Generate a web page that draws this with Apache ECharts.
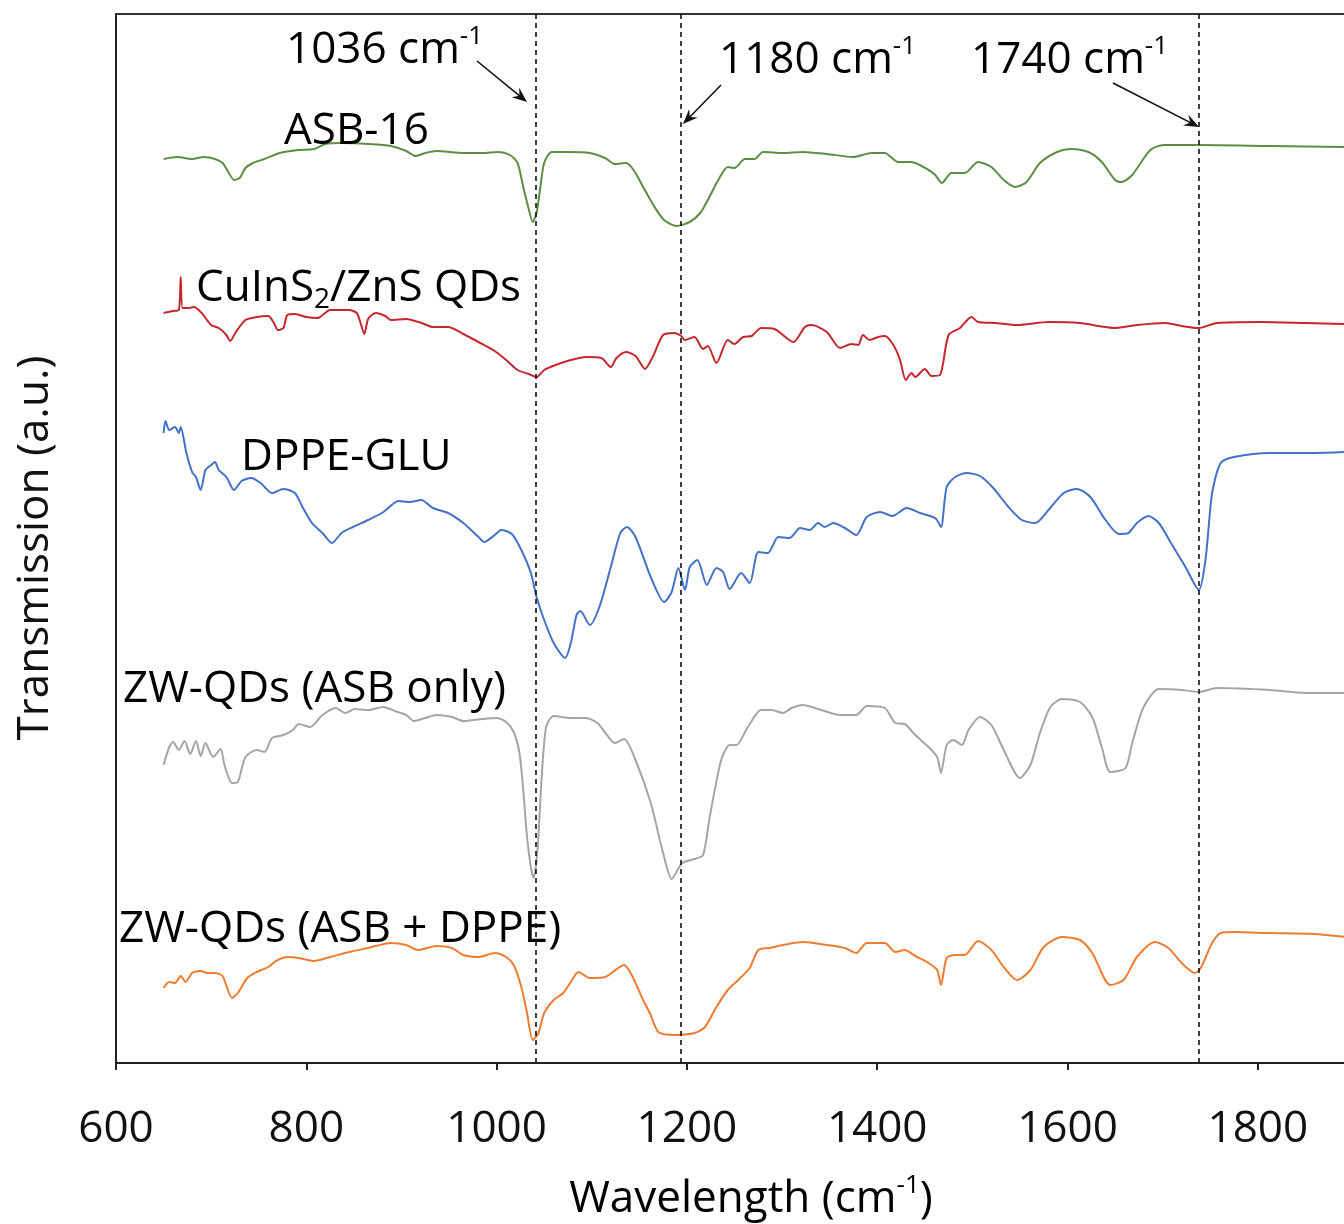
<!DOCTYPE html>
<html><head><meta charset="utf-8">
<script src="https://cdn.jsdelivr.net/npm/echarts@6/dist/echarts.min.js"></script>
<style>html,body{margin:0;padding:0;background:#fff}#c{width:1344px;height:1224px}</style>
</head><body><div id="c"></div>
<script>
// ---- data (wavenumber in cm-1, transmission in arbitrary offset units) ----
const asbX=[650,664,680,692,704,712,718,724,730,736,744,756,772,792,808,820,837,865,889,905,915,925,937,965,985,1002,1014,1022,1028,1034,1038,1042,1046,1050,1058,1074,1098,1114,1124,1136,1144,1154,1166,1176,1189,1203,1214,1222,1233,1243,1250,1261,1271,1280,1301,1322,1347,1375,1394,1408,1422,1436,1454,1461,1468,1478,1492,1506,1520,1533,1545,1557,1571,1589,1603,1622,1636,1650,1657,1668,1687,1701,1738,1813,1893];
const asbY=[90.4,90.6,90.4,90.6,90.4,90.0,89.1,88.3,88.5,89.5,90.0,90.4,91.0,91.3,91.4,91.9,92.0,91.9,91.7,91.2,90.7,91.0,91.2,91.0,91.0,91.1,90.8,90.0,87.6,85.3,84.1,85.0,87.6,90.0,91.1,91.1,91.0,90.5,89.9,90.0,89.3,87.6,85.6,84.3,83.7,84.1,85.0,86.3,88.3,89.6,89.5,90.4,90.4,91.1,91.0,91.1,90.9,90.6,91.0,91.0,90.1,90.1,89.3,88.8,88.0,89.0,89.0,90.1,89.6,88.3,87.6,88.1,90.0,91.1,91.4,91.1,90.1,88.3,88.1,88.8,91.3,91.8,91.8,91.7,91.6];

const qdX=[650,660,666,668,670,676,682,690,700,708,716,720,726,736,748,760,766,770,776,780,788,800,812,825,845,853,857,861,865,873,883,889,905,921,933,949,965,981,998,1010,1022,1034,1042,1050,1062,1078,1094,1110,1120,1126,1136,1146,1156,1164,1175,1187,1194,1198,1208,1217,1222,1231,1243,1250,1259,1268,1278,1292,1312,1324,1331,1347,1361,1373,1380,1385,1392,1401,1408,1417,1424,1430,1436,1440,1450,1457,1466,1475,1487,1499,1506,1524,1547,1580,1613,1650,1673,1703,1720,1738,1757,1803,1850,1893];
const qdY=[75.0,75.2,75.3,78.6,75.5,75.5,75.6,75.0,73.8,73.5,72.8,72.2,73.1,74.3,74.6,74.7,74.0,73.3,73.5,74.8,74.9,74.6,74.5,75.3,75.3,75.0,74.0,72.9,74.4,75.0,74.7,74.3,74.4,74.0,73.6,73.6,72.9,72.1,71.2,70.3,69.3,68.9,68.6,69.3,69.8,70.3,70.6,70.5,69.6,70.5,71.1,70.7,69.4,70.6,72.8,73.0,72.7,72.3,72.6,71.4,71.7,70.0,72.3,71.9,72.6,72.7,73.5,73.4,72.1,73.6,73.8,73.1,71.5,71.9,71.8,72.8,72.3,72.6,72.7,71.8,70.3,68.3,69.0,68.6,69.4,68.7,68.8,72.8,73.5,74.6,74.1,74.0,73.8,74.1,74.0,73.5,73.8,74.0,73.7,73.5,74.0,74.1,74.0,73.9];

const dppeX=[650,652,656,662,666,668,674,680,684,689,694,700,704,708,716,724,732,742,752,764,776,788,796,806,817,827,837,849,865,881,897,909,921,933,949,965,981,987,998,1005,1016,1026,1036,1042,1050,1060,1072,1078,1084,1088,1098,1108,1120,1130,1137,1146,1162,1176,1184,1191,1198,1203,1211,1221,1231,1238,1245,1257,1266,1275,1285,1296,1308,1319,1329,1338,1345,1354,1366,1378,1389,1403,1416,1431,1445,1461,1467,1473,1482,1494,1508,1522,1538,1552,1566,1580,1596,1610,1624,1640,1654,1664,1673,1685,1696,1710,1724,1738,1745,1752,1761,1775,1813,1859,1893];
const dppeY=[63.0,64.2,63.3,63.6,63.0,63.6,61.0,59.1,58.6,57.3,59.3,59.8,60.1,59.3,58.6,57.3,58.2,58.5,58.0,57.0,57.4,57.0,55.6,54.0,53.0,52.0,53.0,53.6,54.3,55.1,56.2,56.1,56.3,55.5,55.0,54.0,52.6,52.1,52.8,53.3,52.9,51.3,49.0,46.6,44.3,42.0,40.5,42.0,44.8,45.2,43.8,45.6,49.6,53.0,53.6,52.6,48.6,46.1,47.1,49.5,47.3,49.6,50.3,47.8,49.5,49.1,47.4,49.0,48.0,51.1,51.0,52.6,52.5,53.5,53.3,54.0,53.6,54.0,53.5,52.8,54.6,55.1,54.7,55.5,55.0,54.5,53.6,57.6,58.6,59.0,58.7,57.5,55.6,54.3,54.0,55.3,57.0,57.4,56.6,54.3,52.9,53.0,54.0,54.7,54.0,51.8,49.6,47.3,50.3,57.0,60.0,60.6,61.0,61.0,61.1];

const zwAsbX=[650,656,660,666,672,678,684,689,694,702,710,714,722,728,736,748,756,764,776,786,792,804,817,831,841,851,865,881,893,905,913,925,937,953,965,985,1000,1010,1018,1024,1028,1032,1036,1039,1043,1047,1052,1060,1078,1094,1106,1116,1124,1134,1146,1162,1175,1184,1195,1208,1217,1224,1236,1245,1252,1264,1278,1289,1301,1310,1322,1338,1361,1378,1389,1408,1419,1429,1440,1454,1463,1467,1473,1480,1489,1496,1508,1520,1533,1550,1561,1571,1582,1594,1613,1626,1636,1645,1661,1668,1680,1696,1720,1738,1757,1813,1850,1893];
const zwAsbY=[29.8,31.6,32.1,31.3,32.2,30.9,32.2,30.7,32.0,30.6,31.4,29.8,28.0,28.1,30.6,31.3,31.1,32.5,32.8,33.3,33.9,33.6,34.8,35.5,35.0,35.4,35.3,35.6,35.2,34.8,34.2,34.5,34.8,34.6,34.2,34.4,34.5,34.1,33.1,31.0,27.3,22.6,19.6,18.5,21.3,28.0,33.6,34.7,34.5,34.5,34.0,32.8,32.0,32.4,30.3,26.0,21.0,18.4,20.0,20.4,20.8,24.6,30.3,31.8,31.8,33.6,35.3,35.3,35.0,35.5,35.8,35.4,34.8,34.8,35.7,35.5,34.0,33.9,32.8,31.6,30.6,29.0,31.8,32.3,31.8,33.3,34.6,33.8,31.3,28.5,29.8,33.0,35.6,36.4,36.1,34.6,31.6,29.1,29.5,32.0,35.6,37.4,37.3,37.1,37.5,37.3,37.0,37.0];

const zwDppeX=[650,656,662,668,673,680,689,696,704,712,722,728,738,748,760,768,780,792,808,825,845,865,889,905,917,937,953,965,981,998,1010,1018,1026,1032,1038,1044,1050,1060,1070,1078,1086,1098,1114,1134,1142,1154,1161,1170,1187,1208,1219,1231,1243,1254,1266,1275,1287,1301,1322,1347,1366,1378,1389,1408,1419,1429,1440,1454,1463,1467,1473,1482,1492,1506,1520,1533,1547,1561,1575,1594,1613,1626,1645,1659,1673,1692,1706,1720,1734,1740,1752,1761,1775,1813,1859,1893];
const zwDppeY=[7.5,8.1,8.0,8.7,8.1,9.0,9.2,9.0,9.0,8.7,6.5,7.0,8.5,9.1,9.6,10.2,10.6,10.5,10.2,10.6,11.1,11.5,12.0,11.8,11.3,11.7,11.5,10.8,10.6,11.0,10.6,9.8,7.6,5.0,2.3,3.0,5.0,6.3,7.0,8.1,9.1,8.5,8.6,9.8,8.8,6.3,5.0,3.1,2.8,3.0,3.6,5.6,7.3,8.3,9.5,11.3,11.5,11.8,12.1,11.8,11.5,11.0,12.0,12.0,11.1,11.3,10.7,10.0,9.3,7.8,10.5,10.8,10.8,12.2,11.3,9.6,8.3,9.3,11.6,12.6,12.3,11.0,7.8,8.3,10.6,12.1,11.5,10.0,9.0,9.5,12.0,13.0,13.1,13.0,12.9,12.6];

const seriesNames=['ASB-16','CuInS2/ZnS QDs','DPPE-GLU','ZW-QDs (ASB only)','ZW-QDs (ASB + DPPE)'];
const markerLines=[1041,1194,1738];           // dashed reference lines (cm-1)
const xTickMin=600, xTickMax=2000, xTickStep=200;

// ---- build ----
const FONT='"Open Sans", "DejaVu Sans", sans-serif';
function zip(xs,ys){return xs.map((x,i)=>[x,ys[i]]);}
const colors=['#5b8f41','#c4282f','#4472c4','#a5a5a5','#ed7d31'];
const dataSets=[zip(asbX,asbY),zip(qdX,qdY),zip(dppeX,dppeY),zip(zwAsbX,zwAsbY),zip(zwDppeX,zwDppeY)];

const series=dataSets.map((d,i)=>({
  name:seriesNames[i],type:'line',data:d,showSymbol:false,smooth:0.25,
  lineStyle:{color:colors[i],width:2},itemStyle:{color:colors[i]},z:3,silent:true
}));
series[0].markLine={silent:true,symbol:['none','none'],label:{show:false},
  lineStyle:{color:'#111',type:[5,4],width:1.6},
  data:markerLines.map(v=>({xAxis:v}))};

function arrow(x1,y1,x2,y2){
  const dx=x2-x1,dy=y2-y1,len=Math.hypot(dx,dy),ux=dx/len,uy=dy/len,nx=-uy,ny=ux,L=15,W=6;
  return [
    {type:'line',shape:{x1:x1,y1:y1,x2:x2-ux*8,y2:y2-uy*8},style:{stroke:'#111',lineWidth:1.6},z:10},
    {type:'polygon',shape:{points:[[x2,y2],[x2-ux*L+nx*W,y2-uy*L+ny*W],[x2-ux*L*0.65,y2-uy*L*0.65],[x2-ux*L-nx*W,y2-uy*L-ny*W]]},style:{fill:'#111'},z:10}
  ];
}
const rich={
  a:{fontFamily:FONT,fontSize:44,lineHeight:52,color:'#111'},
  s:{fontFamily:FONT,fontSize:26,lineHeight:18,verticalAlign:'top',color:'#111'},
  b:{fontFamily:FONT,fontSize:28,lineHeight:24,verticalAlign:'bottom',color:'#111'}
};
function label(x,y,text,align){
  return {type:'text',x:x,y:y,z:10,style:{text:text,rich:rich,align:align||'left',verticalAlign:'middle'}};
}
const graphics=[
  label(286,50,'{a|1036 cm}{s|-1}'),
  label(719,60,'{a|1180 cm}{s|-1}'),
  label(971,60,'{a|1740 cm}{s|-1}'),
  label(284,131,'{a|ASB-16}'),
  label(196,288,'{a|CuInS}{b|2}{a|/ZnS QDs}'),
  label(241,457,'{a|DPPE-GLU}'),
  label(123,689,'{a|ZW-QDs (ASB only)}'),
  label(119,929,'{a|ZW-QDs (ASB + DPPE)}'),
  label(751,1199,'{a|Wavelength (cm}{s|-1}{a|)}','center'),
  {type:'text',x:35,y:548,rotation:Math.PI/2,z:10,style:{text:'Transmission (a.u.)',fontFamily:FONT,fontSize:44,fill:'#111',align:'center',verticalAlign:'middle'}},
  ...arrow(477,61,527,102),
  ...arrow(721,85,683,124),
  ...arrow(1113,83,1199,127)
];

const chart=echarts.init(document.getElementById('c'),null,{renderer:'canvas'});
chart.setOption({
  animation:false,backgroundColor:'#fff',
  grid:{left:116,top:14,width:1332.1,height:1049,containLabel:false,outerBoundsMode:'none'},
  xAxis:[{type:'value',position:'bottom',min:xTickMin,max:xTickMax,interval:xTickStep,
    axisLine:{show:true,lineStyle:{color:'#222',width:2}},
    axisTick:{show:true,inside:false,length:7,lineStyle:{color:'#222',width:2}},
    axisLabel:{show:true,margin:44,fontFamily:FONT,fontSize:44,color:'#111',formatter:function(v){return String(v);}},
    splitLine:{show:false}},
   {type:'value',position:'top',min:xTickMin,max:xTickMax,
    axisLine:{show:true,lineStyle:{color:'#333',width:2}},axisTick:{show:false},axisLabel:{show:false},splitLine:{show:false}}],
  yAxis:{type:'value',min:0,max:104.9,
    axisLine:{show:true,lineStyle:{color:'#222',width:2}},axisTick:{show:false},axisLabel:{show:false},splitLine:{show:false}},
  series:series,
  graphic:graphics
});
</script></body></html>
